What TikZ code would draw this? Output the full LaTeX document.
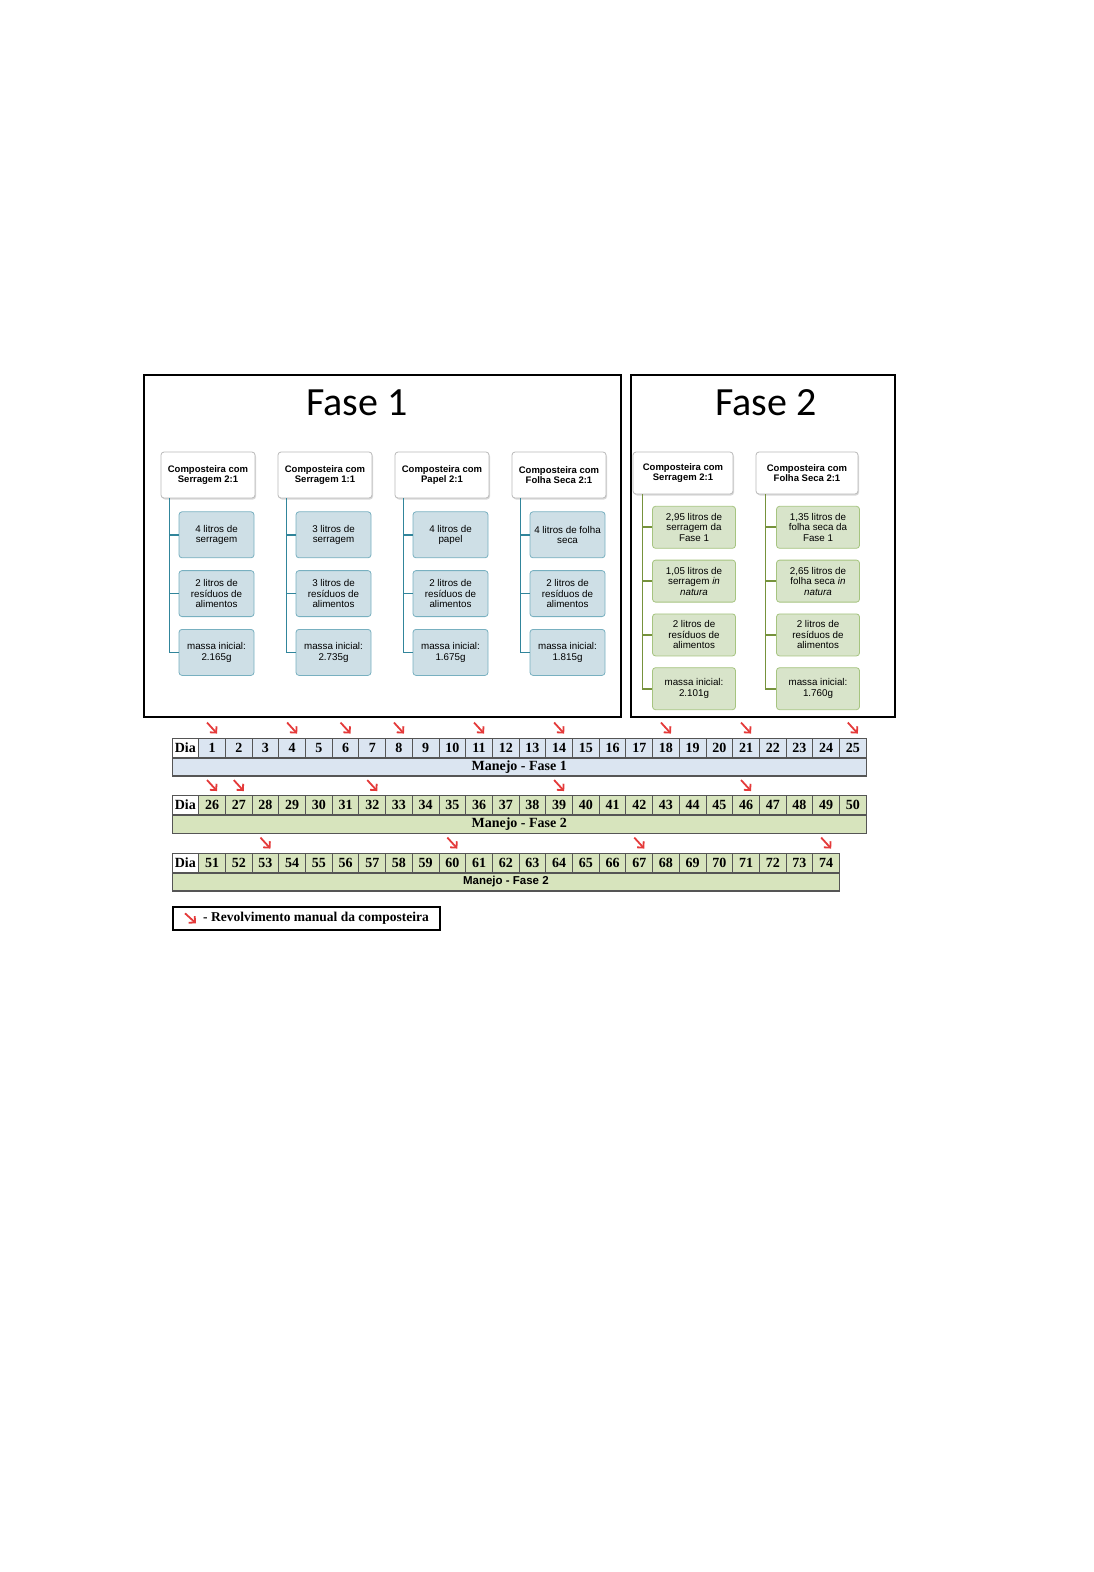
\documentclass[tikz,border=0pt]{standalone}
\usepackage{fontspec}
\setmainfont{Liberation Serif}
\newfontfamily\boxfont{Liberation Sans}
\newfontfamily\titlefont{Carlito}
\usepackage{tikz}
\usetikzlibrary{positioning,arrows.meta,shadows}
\definecolor{fAfill}{RGB}{206,223,230}
\definecolor{fAdraw}{RGB}{120,176,192}
\definecolor{fAline}{RGB}{49,133,155}
\definecolor{fBfill}{RGB}{216,228,202}
\definecolor{fBdraw}{RGB}{166,196,128}
\definecolor{fBline}{RGB}{118,146,60}
\definecolor{rowblue}{RGB}{219,229,241}
\definecolor{rowgreen}{RGB}{215,228,189}
\definecolor{cellgray}{RGB}{85,85,85}
\definecolor{turnred}{RGB}{228,58,58}

\begin{document}
\begin{tikzpicture}[x=1pt,y=-1pt,
  frame/.style={draw, line width=2.4pt, anchor=north west, inner sep=0pt},
  title/.style={font=\titlefont\fontsize{40}{40}\selectfont},
  head/.style={draw=gray!55, fill=white, rounded corners=3pt, line width=0.8pt,
    minimum width=94pt, minimum height=46pt, inner sep=1pt, align=center,
    font=\boxfont\bfseries\fontsize{9.5}{10.5}\selectfont,
    drop shadow={shadow xshift=1pt, shadow yshift=-1.5pt, opacity=0.3}},
  itemA/.style={draw=fAdraw, fill=fAfill, rounded corners=3pt, line width=0.8pt,
    minimum width=75pt, minimum height=46pt, inner sep=1pt, align=center,
    font=\boxfont\fontsize{9.8}{10.5}\selectfont},
  itemB/.style={itemA, draw=fBdraw, fill=fBfill, minimum width=83pt, minimum height=42pt},
  treeA/.style={draw=fAline, line width=1.7pt},
  treeB/.style={draw=fBline, line width=1.7pt},
  day/.style={draw=cellgray, line width=0.9pt, minimum width=26.7pt, minimum height=19pt,
    inner sep=0pt, font=\bfseries\fontsize{14}{14}\selectfont},
  bar/.style={draw=cellgray, line width=1.1pt, anchor=north west, minimum height=18pt,
    inner sep=0pt, font=\bfseries\fontsize{14}{14}\selectfont},
  turn/.style={draw=turnred, line width=1.8pt, -{Straight Barb[length=4.5pt,width=9pt]}}
]
\useasboundingbox (0,0) rectangle (1094,1572);

% Frames and titles
\node[frame, minimum width=477pt, minimum height=342pt] (fase1) at (143,374) {};
\node[frame, minimum width=264pt, minimum height=342pt] (fase2) at (630,374) {};
\node[title] (t1) at (357,403) {Fase 1};
\node[title] (t2) at (766,403) {Fase 2};

% Fase 1 columns
\node[head] (sA) at (208,475) {Composteira com\\Serragem 2:1};
\node[itemA, below=13pt of sA, xshift=8.5pt] (sA1) {4 litros de\\serragem};
\node[itemA, below=12pt of sA1] (sA2) {2 litros de\\resíduos de\\alimentos};
\node[itemA, below=12pt of sA2] (sA3) {massa inicial:\\2.165g};

\node[head] (sB) at (325,475) {Composteira com\\Serragem 1:1};
\node[itemA, below=13pt of sB, xshift=8.5pt] (sB1) {3 litros de\\serragem};
\node[itemA, below=12pt of sB1] (sB2) {3 litros de\\resíduos de\\alimentos};
\node[itemA, below=12pt of sB2] (sB3) {massa inicial:\\2.735g};

\node[head] (pA) at (442,475) {Composteira com\\Papel 2:1};
\node[itemA, below=13pt of pA, xshift=8.5pt] (pA1) {4 litros de\\papel};
\node[itemA, below=12pt of pA1] (pA2) {2 litros de\\resíduos de\\alimentos};
\node[itemA, below=12pt of pA2] (pA3) {massa inicial:\\1.675g};

\node[head] (fA) at (559,475) {Composteira com\\Folha Seca 2:1};
\node[itemA, below=13pt of fA, xshift=8.5pt] (fA1) {4 litros de folha\\seca};
\node[itemA, below=12pt of fA1] (fA2) {2 litros de\\resíduos de\\alimentos};
\node[itemA, below=12pt of fA2] (fA3) {massa inicial:\\1.815g};

% Fase 2 columns
\node[head, minimum width=100pt, minimum height=42pt] (sC) at (683,473) {Composteira com\\Serragem 2:1};
\node[itemB, below=11.5pt of sC, xshift=11pt] (sC1) {2,95 litros de\\serragem da\\Fase 1};
\node[itemB, below=11pt of sC1] (sC2) {1,05 litros de\\serragem \textit{in}\\\textit{natura}};
\node[itemB, below=11pt of sC2] (sC3) {2 litros de\\resíduos de\\alimentos};
\node[itemB, below=11pt of sC3] (sC4) {massa inicial:\\2.101g};

\node[head, minimum width=102pt, minimum height=42pt] (fB) at (807,473) {Composteira com\\Folha Seca 2:1};
\node[itemB, below=11.5pt of fB, xshift=11pt] (fB1) {1,35 litros de\\folha seca da\\Fase 1};
\node[itemB, below=11pt of fB1] (fB2) {2,65 litros de\\folha seca \textit{in}\\\textit{natura}};
\node[itemB, below=11pt of fB2] (fB3) {2 litros de\\resíduos de\\alimentos};
\node[itemB, below=11pt of fB3] (fB4) {massa inicial:\\1.760g};

% Tree lines
\foreach \c in {sA,sB,pA,fA}
  \foreach \k in {1,2,3}
    \draw[treeA] ([xshift=9pt]\c.south west) |- (\c\k.west);
\foreach \c in {sC,fB}
  \foreach \k in {1,2,3,4}
    \draw[treeB] ([xshift=10pt]\c.south west) |- (\c\k.west);

% Day table
\node[day, fill=white] (dia1) at (185.35,747.5) {Dia};
\foreach \d in {1,...,25}
  \node[day, fill=rowblue] (d\d) at ({185.35+26.7*\d},747.5) {\d};
\node[bar, fill=rowblue, minimum width=694.2pt] (bar1) at (dia1.south west) {Manejo - Fase 1};

\node[day, fill=white] (dia2) at (185.35,805) {Dia};
\foreach \d in {26,...,50}
  \node[day, fill=rowgreen] (d\d) at ({185.35+26.7*(\d-25)},805) {\d};
\node[bar, fill=rowgreen, minimum width=694.2pt] (bar2) at (dia2.south west) {Manejo - Fase 2};

\node[day, fill=white] (dia3) at (185.35,862.5) {Dia};
\foreach \d in {51,...,74}
  \node[day, fill=rowgreen] (d\d) at ({185.35+26.7*(\d-50)},862.5) {\d};
\node[bar, fill=rowgreen, minimum width=667.5pt, font=\boxfont\bfseries\fontsize{11.5}{11.5}\selectfont] (bar3) at (dia3.south west) {Manejo - Fase 2};

% Turning marks
\foreach \d in {1,4,6,8,11,14,18,21,25,26,27,32,39,46,53,60,67,74}
  \draw[turn] ([xshift=-5pt,yshift=15pt]d\d.north) -- ([xshift=5pt,yshift=4pt]d\d.north);

% Legend
\node[draw, line width=1.6pt, anchor=north west, minimum width=267pt, minimum height=23pt, inner sep=0pt] (legend) at (172,906) {};
\node[anchor=west, inner sep=0pt, font=\bfseries\fontsize{13.5}{13.5}\selectfont] (legtxt) at ([xshift=31pt]legend.west) {- Revolvimento manual da composteira};
\draw[turn] ([xshift=13pt,yshift=5pt]legend.west) -- ([xshift=24pt,yshift=-5pt]legend.west);
\end{tikzpicture}
\end{document}
